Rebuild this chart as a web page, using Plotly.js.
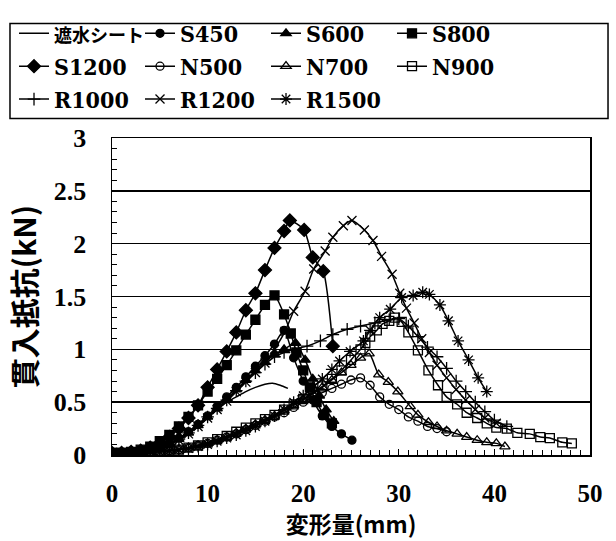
<!DOCTYPE html>
<html>
<head>
<meta charset="utf-8">
<script src="https://cdn.plot.ly/plotly-3.0.1.min.js"></script>
<style>html,body{margin:0;padding:0;background:#fff;}#chart{width:616px;height:541px;}</style>
</head>
<body>
<div id="chart"></div>
<script>
// ---- data ----
const seriesNames = ["遮水シート","S450","S600","S800","S1200","N500","N700","N900","R1000","R1200","R1500"];

const sheetX = [0,1,2,3,4,5,6,7,8,9,10,11,12,13,14,15,16,16.8,17.6,18.4];
const sheetY = [0.02,0.02,0.02,0.03,0.05,0.07,0.11,0.16,0.22,0.29,0.36,0.43,0.5,0.55,0.6,0.64,0.67,0.68,0.66,0.63];

const s450X = [0,1,2,3,4,5,6,7,8,9,10,11,12,13,14,15,16,17,18,19,20,21,22,23,24,25.1];
const s450Y = [0.02,0.02,0.02,0.03,0.05,0.07,0.11,0.16,0.22,0.29,0.37,0.46,0.55,0.64,0.74,0.84,0.94,1.05,1.18,0.92,0.7,0.52,0.37,0.27,0.2,0.14];

const s600X = [0,1,2,3,4,5,6,7,8,9,10,11,12,13,14,15,16,17,18,19.2,20.2,21,21.7,22.4,23.2];
const s600Y = [0.02,0.02,0.02,0.03,0.05,0.07,0.1,0.15,0.21,0.28,0.36,0.44,0.53,0.62,0.71,0.8,0.88,0.95,1.0,1.06,0.9,0.72,0.56,0.43,0.32];

const s800X = [0,1,2,3,4,5,6,7,8,9,10,11,12,13,14,15,16,17,18,18.7,19.3,20,20.7,21.4,22.2,23];
const s800Y = [0.02,0.02,0.03,0.05,0.08,0.13,0.19,0.27,0.36,0.47,0.6,0.72,0.85,0.99,1.14,1.28,1.42,1.51,1.33,1.15,0.97,0.8,0.64,0.5,0.38,0.3];

const s1200X = [0,1,2,3,4,5,6,7,8,9,10,11,12,13,14,15,16,17,18,18.6,20.1,21,22.1,23.1];
const s1200Y = [0.02,0.02,0.03,0.04,0.07,0.11,0.17,0.25,0.35,0.47,0.64,0.81,0.98,1.16,1.37,1.53,1.75,1.96,2.12,2.22,2.13,1.87,1.74,1.03];

const n500X = [0,1,2,3,4,5,6,7,8,9,10,11,12,13,14,15,16,17,18,19,20,21,22,23,24,25,26,27,28,29,30,31,32,33,34,35];
const n500Y = [0.02,0.02,0.02,0.02,0.03,0.03,0.04,0.05,0.07,0.09,0.11,0.14,0.17,0.2,0.24,0.28,0.32,0.36,0.4,0.45,0.5,0.55,0.59,0.63,0.67,0.71,0.73,0.66,0.55,0.48,0.43,0.36,0.32,0.27,0.25,0.22];

const n700X = [0,1,2,3,4,5,6,7,8,9,10,11,12,13,14,15,16,17,18,19,20,21,22,23,24,25,26,26.9,27.9,28.9,29.9,31.2,32,33.1,34,35,36.1,37.1,38.2,39.2,40.2,41.1];
const n700Y = [0.02,0.02,0.02,0.02,0.03,0.03,0.04,0.05,0.07,0.09,0.11,0.14,0.17,0.21,0.25,0.29,0.33,0.37,0.42,0.47,0.52,0.58,0.64,0.71,0.78,0.85,0.92,0.96,0.76,0.69,0.6,0.46,0.38,0.31,0.27,0.23,0.2,0.17,0.14,0.12,0.11,0.08];

const n900X = [0,1,2,3,4,5,6,7,8,9,10,11,12,13,14,15,16,17,18,19,20,21,22,23,24,25,26,26.5,27,27.7,28.3,29,29.6,30.3,31,32,33.1,34.1,35,36.1,37.1,38.2,39.2,40.2,41.3,42.4,43.7,44.8,45.8,47.1,48.1];
const n900Y = [0.02,0.02,0.02,0.02,0.03,0.03,0.04,0.05,0.07,0.09,0.12,0.15,0.18,0.22,0.26,0.3,0.34,0.38,0.43,0.48,0.53,0.59,0.65,0.72,0.8,0.9,1.0,1.06,1.12,1.18,1.24,1.27,1.3,1.26,1.16,0.99,0.8,0.66,0.55,0.48,0.4,0.35,0.3,0.26,0.25,0.21,0.2,0.17,0.16,0.12,0.11];

const r1000X = [0,1,2,3,4,5,6,7,8,9,10,11,12,13,14,15,16,17,18,19.1,20.4,21.8,23.1,24.6,26,27.5,29,30,31,32,33,34,35,36,37,38,39,40,41.3];
const r1000Y = [0.02,0.02,0.02,0.03,0.05,0.07,0.1,0.15,0.21,0.28,0.36,0.44,0.52,0.61,0.7,0.78,0.86,0.93,0.97,1.0,1.03,1.08,1.14,1.19,1.22,1.25,1.28,1.29,1.22,1.12,1.02,0.93,0.82,0.7,0.6,0.5,0.41,0.33,0.27];

const r1200X = [0,1,2,3,4,5,6,7,8,9,10,11,12,13,14,15,16,17,18.1,19,20.2,21.1,22.3,23.1,24.2,25.1,26.4,27.3,28.2,29.3,30.1,30.8,31.6,32.4,33.2,34,35,36,37,38,39,40.2];
const r1200Y = [0.02,0.02,0.02,0.03,0.04,0.06,0.09,0.14,0.2,0.27,0.35,0.43,0.51,0.6,0.69,0.78,0.87,1.0,1.17,1.36,1.55,1.76,1.93,2.06,2.17,2.22,2.13,2.03,1.88,1.71,1.53,1.39,1.25,1.1,0.97,0.85,0.73,0.62,0.52,0.43,0.35,0.3];

const r1500X = [0,1,2,3,4,5,6,7,8,9,10,11,12,13,14,15,16,17,18,19,20,21,22,23,23.8,24.9,26.3,27,28,29.1,30.3,31.5,32.5,33.2,34.3,35.2,36.2,37.3,38.3,39.2];
const r1500Y = [0.02,0.02,0.02,0.02,0.03,0.03,0.04,0.05,0.06,0.08,0.1,0.13,0.16,0.19,0.23,0.27,0.32,0.37,0.43,0.5,0.56,0.64,0.72,0.81,0.89,0.98,1.08,1.18,1.3,1.38,1.49,1.51,1.54,1.52,1.42,1.27,1.08,0.9,0.73,0.6];

const xTicks = [0,10,20,30,40,50];
const yTicks = [0,0.5,1,1.5,2,2.5,3];
const yTickText = ["0","0.5","1","1.5","2","2.5","3"];

// ---- styles ----
const xs = [sheetX,s450X,s600X,s800X,s1200X,n500X,n700X,n900X,r1000X,r1200X,r1500X];
const ys = [sheetY,s450Y,s600Y,s800Y,s1200Y,n500Y,n700Y,n900Y,r1000Y,r1200Y,r1500Y];
const symbols = [null,"circle","triangle-up","square","diamond","circle-open","triangle-up-open","square-open","cross-thin-open","x-thin-open","asterisk-open"];
const sizes = [0,8,9,9,10,8,9,9,9,9,10];

const legendLabel = n => /[^\x00-\x7F]/.test(n) ? '<span style="font-size:18px">' + n + '</span>' : n;

const traces = seriesNames.map((n,i)=>{
  const t = {x: xs[i], y: ys[i], name: legendLabel(n), type:"scatter",
    line:{color:"#000", width:1.5, shape:"spline", smoothing:0.6}};
  if (symbols[i]===null) { t.mode="lines"; }
  else {
    t.mode="lines+markers";
    t.marker={symbol:symbols[i], size:sizes[i], color:"#000", line:{color:"#000", width:1.3}};
  }
  return t;
});

const serif = "'Liberation Serif','Times New Roman','Noto Sans CJK JP',serif";
const legSerif = "'DejaVu Serif Condensed','DejaVu Serif','Noto Sans CJK JP',serif";
const layout = {
  width:616, height:541,
  margin:{l:112, r:26, t:128, b:86},
  paper_bgcolor:"#fff", plot_bgcolor:"#fff",
  showlegend:true,
  legend:{orientation:"h", x:-0.205, xanchor:"left", y:1.398, yanchor:"top",
    borderwidth:0, bgcolor:"rgba(0,0,0,0)",
    font:{family:legSerif, size:23, color:"#000", weight:"bold"},
    entrywidth:81, entrywidthmode:"pixels", itemwidth:30, tracegroupgap:0},
  shapes:[{type:"rect", xref:"paper", yref:"paper", x0:-0.2134, x1:1.0377, y0:1.0612, y1:1.3609,
    line:{color:"#000", width:1.5}, fillcolor:"rgba(0,0,0,0)"}],
  xaxis:{range:[0,50], tickvals:xTicks, ticktext:xTicks.map(String),
    showgrid:false, zeroline:false, showline:true, linecolor:"#000", linewidth:1.5, mirror:true,
    ticks:"inside", ticklen:6, tickcolor:"#000", tickwidth:1.2,
    minor:{dtick:1, ticks:"inside", ticklen:5, tickcolor:"#000", tickwidth:1},
    ticklabelstandoff:15,
    tickfont:{family:serif, size:25, color:"#000", weight:"bold"},
    title:{text:"変形量(mm)", standoff:10, font:{family:"'Noto Sans CJK JP',sans-serif", size:23, color:"#000", weight:"bold"}}},
  yaxis:{range:[0,3], tickvals:yTicks, ticktext:yTickText,
    showgrid:true, gridcolor:"#000", gridwidth:1.4, zeroline:false,
    showline:true, linecolor:"#000", linewidth:1.5, mirror:true,
    ticks:"inside", ticklen:6, tickcolor:"#000", tickwidth:1.2,
    minor:{dtick:0.1, ticks:"inside", ticklen:5, tickcolor:"#000", tickwidth:1, showgrid:false},
    ticklabelstandoff:19,
    tickfont:{family:serif, size:26, color:"#000", weight:"bold"},
    title:{text:"貫入抵抗(kN)", standoff:8, font:{family:"'Noto Sans CJK JP',sans-serif", size:30, color:"#000", weight:"bold"}}}
};
Plotly.newPlot("chart", traces, layout, {staticPlot:true, displayModeBar:false});
</script>
</body>
</html>
